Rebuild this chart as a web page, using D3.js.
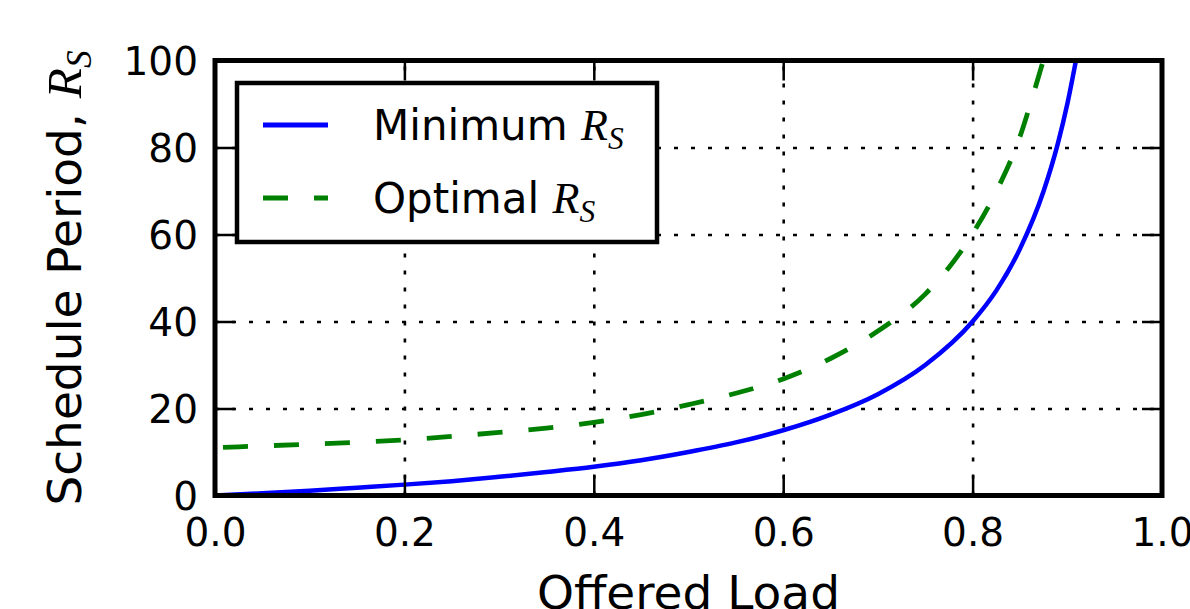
<!DOCTYPE html>
<html>
<head>
<meta charset="utf-8">
<script src="https://cdn.jsdelivr.net/npm/d3@7"></script>
<style>
  body { margin: 0; background: #fff; }
  text { font-family: "DejaVu Sans", sans-serif; fill: #000; }
</style>
</head>
<body>
<script>
// canvas size
const WIDTH = 1190;
const HEIGHT = 609;

// plot box (pixels)
const LEFT = 215, RIGHT = 1162, TOP = 60.5, BOTTOM = 495.5;

// tick values
const xTicks = [0, 0.2, 0.4, 0.6, 0.8, 1.0];
const yTicks = [0, 20, 40, 60, 80, 100];
const xGrid = [0.2, 0.4, 0.6, 0.8];
const yGrid = [20, 40, 60, 80];

// minimum schedule period
const loadMin = [0, 0.05, 0.1, 0.15, 0.2, 0.25, 0.3, 0.35, 0.4, 0.45, 0.5, 0.55, 0.6,
                 0.65, 0.7, 0.75, 0.8, 0.825, 0.85, 0.875, 0.89, 0.9, 0.91];
const minRs = [0, 0.5, 1.1, 1.8, 2.5, 3.3, 4.3, 5.4, 6.6, 8.1, 10, 12.2, 15,
               18.6, 23.3, 30, 40, 47.1, 56.7, 70, 80.9, 90, 101];

// optimal schedule period
const loadOpt = [0, 0.05, 0.1, 0.15, 0.2, 0.25, 0.3, 0.35, 0.4, 0.45, 0.5, 0.55, 0.6,
                 0.65, 0.7, 0.75, 0.775, 0.8, 0.825, 0.85, 0.865, 0.876];
const optRs = [11.0, 11.4, 11.8, 12.25, 12.8, 13.6, 14.5, 15.5, 16.8, 18.6, 20.9, 23.5, 26.8,
               31.5, 37.8, 46.3, 52.4, 60.2, 69.9, 82.5, 92.9, 101];

const seriesNames = ["Minimum", "Optimal"];

const svg = d3.select("body").append("svg")
    .attr("width", WIDTH)
    .attr("height", HEIGHT);

const x = d3.scaleLinear().domain([0, 1]).range([LEFT, RIGHT]);
const y = d3.scaleLinear().domain([0, 100]).range([BOTTOM, TOP]);

// grid (dotted)
const gridX = svg.append("g")
    .attr("transform", `translate(0,${BOTTOM})`)
    .call(d3.axisBottom(x).tickValues(xGrid).tickSize(-(BOTTOM - TOP)).tickFormat(""));
const gridY = svg.append("g")
    .attr("transform", `translate(${LEFT},0)`)
    .call(d3.axisLeft(y).tickValues(yGrid).tickSize(-(RIGHT - LEFT)).tickFormat(""));
[gridX, gridY].forEach(g => {
    g.select(".domain").remove();
    g.selectAll(".tick line")
        .attr("stroke", "#000")
        .attr("stroke-width", 2.6)
        .attr("stroke-dasharray", "4,13");
});

// clip for data lines
svg.append("clipPath").attr("id", "plotClip")
  .append("rect")
    .attr("x", LEFT).attr("y", TOP)
    .attr("width", RIGHT - LEFT).attr("height", BOTTOM - TOP);

const line = d3.line()
    .x(d => x(d[0]))
    .y(d => y(d[1]))
    .curve(d3.curveMonotoneX);

const lines = svg.append("g").attr("clip-path", "url(#plotClip)");

lines.append("path")
    .datum(d3.zip(loadMin, minRs))
    .attr("d", line)
    .attr("fill", "none")
    .attr("stroke", "#0000ff")
    .attr("stroke-width", 4.5);

lines.append("path")
    .datum(d3.zip(loadOpt, optRs))
    .attr("d", line)
    .attr("fill", "none")
    .attr("stroke", "#008000")
    .attr("stroke-width", 4.8)
    .attr("stroke-dasharray", "25,26")
    .attr("stroke-dashoffset", 43);

// axes with inward ticks on all sides
function styleAxis(g) {
    g.select(".domain").remove();
    g.selectAll(".tick line").attr("stroke", "#000").attr("stroke-width", 2.5);
    g.selectAll(".tick text")
        .attr("font-family", "DejaVu Sans")
        .attr("font-size", 39)
        .attr("fill", "#000");
}

svg.append("g")
    .attr("transform", `translate(0,${BOTTOM})`)
    .call(d3.axisBottom(x).tickValues(xTicks).tickSize(-20).tickPadding(23)
        .tickFormat(d3.format(".1f")))
    .call(styleAxis);

svg.append("g")
    .attr("transform", `translate(0,${TOP})`)
    .call(d3.axisTop(x).tickValues(xTicks).tickSize(-20).tickFormat(""))
    .call(styleAxis);

const yAxis = svg.append("g")
    .attr("transform", `translate(${LEFT},0)`)
    .call(d3.axisLeft(y).tickValues(yTicks).tickSize(-20).tickPadding(17))
    .call(styleAxis);
yAxis.selectAll(".tick text").attr("dy", "0.37em");

svg.append("g")
    .attr("transform", `translate(${RIGHT},0)`)
    .call(d3.axisRight(y).tickValues(yTicks).tickSize(-20).tickFormat(""))
    .call(styleAxis);

// spines
svg.append("rect")
    .attr("x", LEFT).attr("y", TOP)
    .attr("width", RIGHT - LEFT).attr("height", BOTTOM - TOP)
    .attr("fill", "none")
    .attr("stroke", "#000")
    .attr("stroke-width", 5);

// helper: append math R_S
function addRs(text, size) {
    text.append("tspan").text(" ");
    text.append("tspan")
        .attr("font-family", "Liberation Serif")
        .attr("font-style", "italic")
        .attr("font-size", size * 1.05)
        .text("R");
    text.append("tspan")
        .attr("font-family", "Liberation Serif")
        .attr("font-style", "italic")
        .attr("font-size", size * 0.75)
        .attr("dy", size * 0.22)
        .text("S");
}

// axis labels
svg.append("text")
    .attr("x", (LEFT + RIGHT) / 2)
    .attr("y", 609)
    .attr("text-anchor", "middle")
    .attr("font-size", 47)
    .text("Offered Load");

const yLabel = svg.append("text")
    .attr("transform", `translate(81,${(TOP + BOTTOM) / 2}) rotate(-90)`)
    .attr("text-anchor", "middle")
    .attr("font-size", 47)
    .text("Schedule Period,");
addRs(yLabel, 47);

// legend
const legend = svg.append("g");
legend.append("rect")
    .attr("x", 237).attr("y", 83)
    .attr("width", 420).attr("height", 159)
    .attr("fill", "#fff")
    .attr("stroke", "#000")
    .attr("stroke-width", 4.5);

const legendItems = [
    { name: seriesNames[0], color: "#0000ff", dash: null, cy: 125 },
    { name: seriesNames[1], color: "#008000", dash: "25,26", cy: 198 }
];
legendItems.forEach(it => {
    legend.append("line")
        .attr("x1", 263).attr("x2", 328)
        .attr("y1", it.cy).attr("y2", it.cy)
        .attr("stroke", it.color)
        .attr("stroke-width", 4.8)
        .attr("stroke-dasharray", it.dash);
    const t = legend.append("text")
        .attr("x", 373)
        .attr("y", it.cy + 15)
        .attr("font-size", 42)
        .text(it.name);
    addRs(t, 42);
});
</script>
</body>
</html>
